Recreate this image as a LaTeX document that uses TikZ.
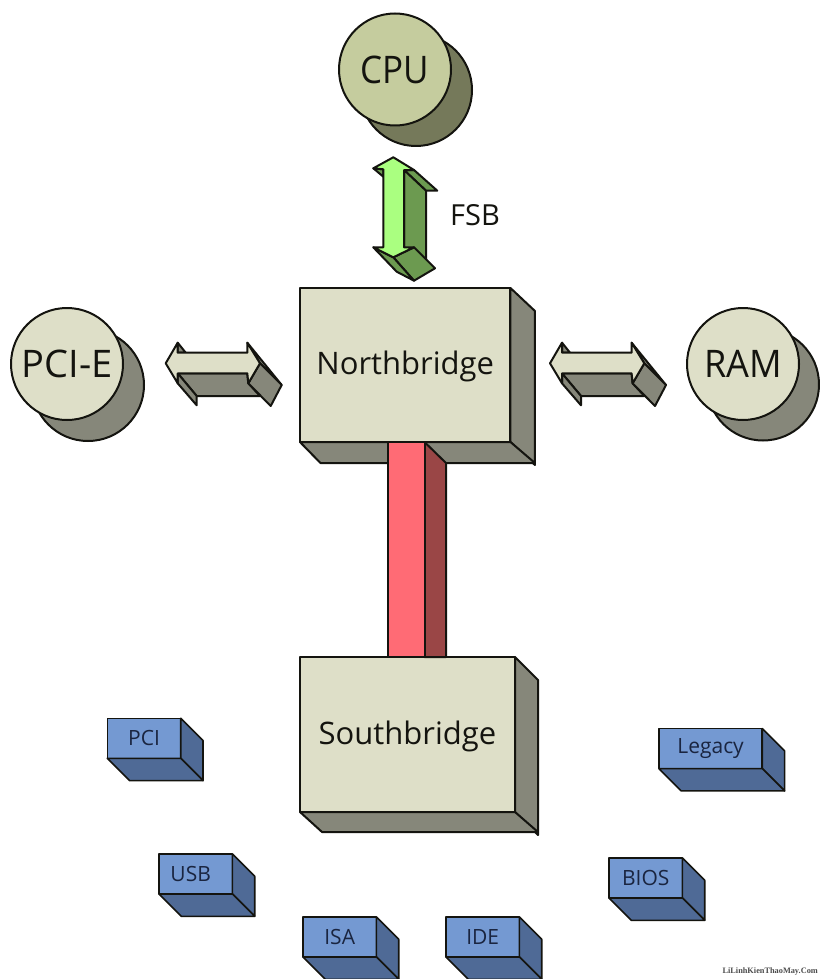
\documentclass[tikz,border=0pt]{standalone}
\usepackage{fontspec}
\setmainfont{Open Sans}
\newfontfamily\markfont{Liberation Serif}
\definecolor{beige}{HTML}{DEDFC8}
\definecolor{taupe}{HTML}{86877A}
\definecolor{olivef}{HTML}{C5CC9E}
\definecolor{olives}{HTML}{75795A}
\definecolor{bluef}{HTML}{7499D2}
\definecolor{blues}{HTML}{4F6A96}
\definecolor{redf}{HTML}{FF6B75}
\definecolor{reds}{HTML}{9A4646}
\definecolor{greenf}{HTML}{AAFF80}
\definecolor{greens}{HTML}{6C9A50}
\definecolor{inkc}{HTML}{14140F}
\definecolor{navyt}{HTML}{1A2540}
\tikzset{
  edge/.style={draw=inkc,line width=2pt,line join=round},
  chip/.style={edge,rectangle,inner sep=0pt,outer sep=0pt,fill=beige,text=inkc,text height=26pt,text depth=7pt,font=\fontsize{31}{31}\selectfont},
  minichip/.style={edge,line width=1.6pt,rectangle,inner sep=0pt,outer sep=0pt,fill=bluef,text=navyt,minimum height=40pt,font=\fontsize{21}{21}\selectfont},
  disc/.style={edge,circle,inner sep=0pt,outer sep=0pt,minimum size=112pt,fill=#1,text=inkc,font=\fontsize{38}{38}\selectfont},
  backdisc/.style={edge,circle,inner sep=0pt,outer sep=0pt,minimum size=112pt,fill=#1},
  sideface/.style={edge,fill=#1},
  pics/wideway/.style={code={
    \path[sideface=taupe] (81.6,-20.6) -- (116,21.7) -- (94.3,0) -- cycle;
    \path[sideface=taupe] (12,-20.6) -- (20,-10.6) -- (12,-10.6) -- cycle;
    \path[sideface=taupe] (12,10) -- (81.6,10) -- (82.6,20) -- (94.3,32.7) -- (31,32.7) -- cycle;
    \path[sideface=taupe] (12,10) -- (12,20) -- (31,42) -- (31,32.7) -- cycle;
    \path[sideface=taupe] (94.3,0) -- (116,21.7) -- (105,42.7) -- (82.6,20) -- cycle;
    \path[edge,fill=beige] (0,0) -- (12,-20.6) -- (12,-10.6) -- (81.6,-10.6) -- (81.6,-20.6)
      -- (94.3,0) -- (82.6,20) -- (81.6,10) -- (12,10) -- (12,20) -- cycle;
  }}
}
\begin{document}
\begin{tikzpicture}[x=1pt,y=-1pt]
\useasboundingbox (0,0) rectangle (819,979);
\fill[white] (0,0) rectangle (819,979);

% discs
\node[backdisc=olives] (cpuback) at (416,90) {};
\node[disc=olivef] (cpu) at (395,69.5) {\scalebox{0.92}[1]{CPU}};
\node[backdisc=taupe] (pciback) at (88,385) {};
\node[disc=beige] (pcie) at (67,364) {PCI-E};
\node[backdisc=taupe] (ramback) at (763,384.5) {};
\node[disc=beige] (ram) at (743,364) {\scalebox{0.95}[1]{RAM}};

% FSB arrow
\path[sideface=greens] (404,170) -- (414,170) -- (437.3,190.7) -- (426,190.7) -- cycle;
\path[sideface=greens] (404,170) -- (426,190.7) -- (426,268.3) -- (404,247.3) -- cycle;
\path[sideface=greens] (414,247.3) -- (435,268.3) -- (414,280.7) -- (393.3,257.3) -- cycle;
\path[sideface=greens] (373.3,247.3) -- (393.3,257.3) -- (414,280.7) -- (396.7,271.7) -- cycle;
\path[sideface=greens] (373.3,168.3) -- (383.3,169.3) -- (383.3,176.7) -- cycle;
\path[edge,fill=greenf] (393.3,157.3) -- (414,170) -- (404,170) -- (404,247.3) -- (414,247.3) -- (393.3,257.3) -- (373.3,247.3) -- (383.3,247.3) -- (383.3,169.3) -- (373.3,168.3) -- cycle;
\node[font=\fontsize{29}{29}\selectfont,text=inkc] (fsb) at (475,215.5) {FSB};

% horizontal arrows
\path (165.7,363.3) pic {wideway};
\path (550,363.3) pic {wideway};

% Northbridge
\node[chip,minimum width=210.5pt,minimum height=154pt] (north) at (405.2,365) {Northbridge};
\path[sideface=taupe] (north.north east) -- ++(24.5,23) -- ++(0,154) -- (north.south east) -- cycle;
\path[sideface=taupe] (north.south west) -- ++(20.5,21) -- ++(214.5,0) -- (north.south east) -- cycle;

% Southbridge
\node[chip,minimum width=215pt,minimum height=155pt] (south) at (407.5,734.5) {Southbridge};
\path[sideface=taupe] (south.north east) -- ++(23,23) -- ++(0,155) -- (south.south east) -- cycle;
\path[sideface=taupe] (south.south west) -- ++(22,20) -- ++(216,0) -- (south.south east) -- cycle;

% link between the bridges
\coordinate (linkNW) at (387.5,442);
\coordinate (linkNE) at (424.5,442);
\coordinate (linkSW) at (387.5,657);
\coordinate (linkSE) at (424.5,657);
\path[sideface=reds] (linkNE) -- ++(21.5,21) -- (446,657) -- (linkSE) -- cycle;
\path[edge,fill=redf] (linkNW) rectangle (linkSE);

% small chips
\foreach \nm/\cx/\cy/\bw/\lab in {pci/144/738.3/73.4/PCI,usb/195.7/874/73.4/{\hspace*{-10pt}USB},legacy/710.6/748.6/103.3/Legacy,bios/645.7/878/73.4/BIOS,isa/339.7/937/73.4/ISA,ide/482.7/937/73.4/IDE}{
  \node[minichip,minimum width=\bw pt] (\nm) at (\cx,\cy) {\lab};
  \path[sideface=blues,line width=1.6pt] (\nm.north east) -- ++(22.3,22.3) -- ++(0,40) -- (\nm.south east) -- cycle;
  \path[sideface=blues,line width=1.6pt] (\nm.south west) -- ++(22.3,22.3) -- ++(\bw,0) -- (\nm.south east) -- cycle;
}

% watermark
\node[anchor=east,inner sep=0pt,font=\markfont\fontsize{8.3}{8.3}\selectfont\bfseries,text=black!70] (mark) at (818,971.5) {LiLinhKienThaoMay.Com};
\end{tikzpicture}
\end{document}
